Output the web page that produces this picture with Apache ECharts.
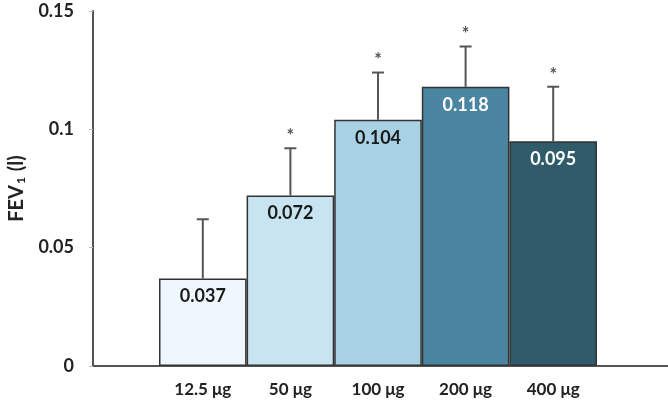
<!DOCTYPE html>
<html><head><meta charset="utf-8">
<script src="https://cdn.jsdelivr.net/npm/echarts@6/dist/echarts.min.js"></script>
<style>html,body{margin:0;padding:0;background:#fff}#c{width:668px;height:406px}</style>
</head><body><div id="c"></div>
<script>
const categories = ['12.5 μg', '50 μg', '100 μg', '200 μg', '400 μg'];
const means = [0.037, 0.072, 0.104, 0.118, 0.095];
const upperErr = [0.062, 0.092, 0.124, 0.135, 0.118];
const significant = [false, true, true, true, true];
const yTicks = [0, 0.05, 0.1, 0.15];
const barColors = ['#eef8fc', '#c8e4f1', '#a8d1e4', '#4a86a2', '#2f5b6a'];
const labelColors = ['#1a1a1a', '#1a1a1a', '#1a1a1a', '#ffffff', '#ffffff'];

const font = 'Lato, "Open Sans", sans-serif';
const chart = echarts.init(document.getElementById('c'));
chart.setOption({
  animation: false,
  grid: [
    {left: 159, right: 71, top: 11, bottom: 40, containLabel: false, outerBoundsMode: 'none'},
    {left: 93, right: 0, top: 11, bottom: 40, containLabel: false, outerBoundsMode: 'none'}
  ],
  xAxis: [
    {type: 'category', gridIndex: 0, data: categories,
     axisLine: {show: false}, axisTick: {show: false},
     axisLabel: {margin: 15, fontFamily: font, fontWeight: 'bold', fontSize: 17, color: '#222'}},
    {type: 'value', gridIndex: 1, min: 0, max: 1,
     axisLine: {show: true, lineStyle: {color: '#555', width: 2}},
     axisTick: {show: false}, axisLabel: {show: false}, splitLine: {show: false}}
  ],
  yAxis: [
    {type: 'value', gridIndex: 0, min: 0, max: 0.15, interval: 0.05, offset: 66,
     name: '{a|FEV}{s|1}{a| (l)}', nameLocation: 'middle', nameGap: 66, nameRotate: 90,
     nameTextStyle: {rich: {
       a: {fontFamily: font, fontWeight: 'bold', fontSize: 20, color: '#222'},
       s: {fontFamily: font, fontWeight: 'bold', fontSize: 12, color: '#222', verticalAlign: 'bottom', padding: [7, 1, 0, 1]}
     }},
     axisLine: {show: true, lineStyle: {color: '#555', width: 2}},
     axisTick: {show: true, length: 4, lineStyle: {color: '#bbb'}},
     splitLine: {show: false},
     axisLabel: {margin: 19, fontFamily: font, fontWeight: 'bold', fontSize: 18, color: '#222',
       formatter: v => { const t = yTicks.find(x => Math.abs(x - v) < 1e-9); return t === undefined ? '' : String(t); }}},
    {type: 'value', gridIndex: 1, min: 0, max: 1, show: false}
  ],
  series: [
    {type: 'bar', xAxisIndex: 0, yAxisIndex: 0, barCategoryGap: '0%', z: 2,
     data: means.map((v, i) => ({value: v,
       itemStyle: {color: barColors[i], borderColor: '#333', borderWidth: 1.5},
       label: {color: labelColors[i]}})),
     label: {show: true, position: 'insideTop', distance: 9, fontFamily: font, fontWeight: 'bold', fontSize: 18,
       formatter: p => p.value.toFixed(3)}},
    {type: 'custom', xAxisIndex: 0, yAxisIndex: 0, z: 3,
     data: means.map((v, i) => [i, v, upperErr[i], significant[i] ? 1 : 0]),
     encode: {x: 0, y: [1, 2]},
     renderItem: (params, api) => {
       const i = api.value(0);
       const lo = api.coord([i, api.value(1)]);
       const hi = api.coord([i, api.value(2)]);
       const style = {stroke: '#555', lineWidth: 2};
       const children = [
         {type: 'line', shape: {x1: hi[0], y1: lo[1], x2: hi[0], y2: hi[1]}, style},
         {type: 'line', shape: {x1: hi[0] - 6, y1: hi[1], x2: hi[0] + 6, y2: hi[1]}, style}
       ];
       if (api.value(3)) {
         children.push({type: 'text', x: hi[0], y: hi[1] - 3,
           style: {text: '*', fill: '#555', fontSize: 18, fontFamily: font, fontWeight: 'bold', align: 'center', verticalAlign: 'bottom'}});
       }
       return {type: 'group', children};
     }}
  ]
});
</script></body></html>
